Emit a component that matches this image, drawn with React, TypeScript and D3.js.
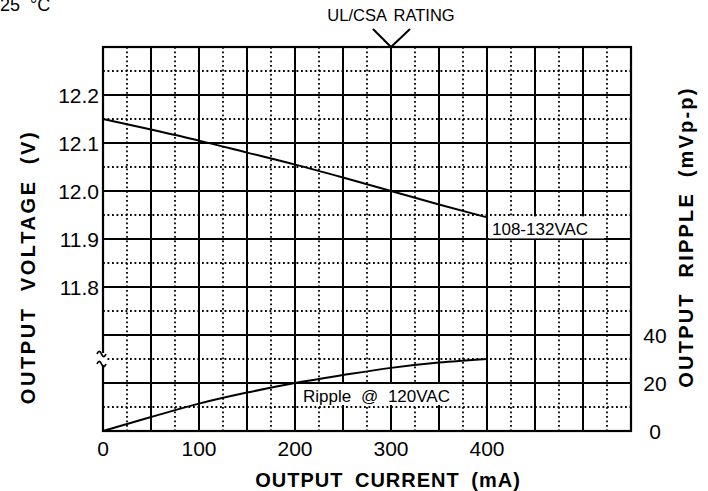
import React from 'react';
import * as d3 from 'd3';

// values
const currentPts = [0, 50, 100, 150, 200, 250, 300, 350, 400];
const voltage = [12.15, 12.128, 12.105, 12.08, 12.055, 12.028, 12.0, 11.972, 11.945];
const ripple = [0, 5.8, 11.4, 16, 20, 23.3, 26.3, 28.5, 30];

const currentTicks = [0, 100, 200, 300, 400];
const voltageTicks = [11.8, 11.9, 12.0, 12.1, 12.2];
const rippleTicks = [0, 20, 40];

const W = 708;
const H = 491;
const margin = { top: 47, right: 77, bottom: 60, left: 103 };
const FONT = '"Liberation Sans", Arial, sans-serif';

const App = () => {
  const innerW = W - margin.left - margin.right;
  const innerH = H - margin.top - margin.bottom;

  const x = d3.scaleLinear().domain([0, 550]).range([0, innerW]);
  const yV = d3.scaleLinear().domain([11.5, 12.3]).range([innerH, 0]);
  const yR = d3.scaleLinear().domain([0, 160]).range([innerH, 0]);

  const majorX = d3.range(0, 551, 50);
  const minorX = d3.range(25, 550, 50);
  const majorY = d3.range(0, 9).map(i => 11.5 + i * 0.1);
  const minorY = d3.range(0, 8).map(i => 11.55 + i * 0.1);

  const vLine = d3.line<number>()
    .x((d, i) => x(currentPts[i]))
    .y(d => yV(d))
    .curve(d3.curveMonotoneX);
  const rLine = d3.line<number>()
    .x((d, i) => x(currentPts[i]))
    .y(d => yR(d))
    .curve(d3.curveMonotoneX);

  const dots = { stroke: '#000', strokeWidth: 1.8, strokeDasharray: '1.8 2.7' };
  const brk = yR(30); // axis break position

  return (
    <svg width={W} height={H} style={{ position: 'absolute', left: 0, top: 0, background: '#fff' }}
      fontFamily={FONT}>
      <text x={0} y={11} fontSize={18}>25<tspan dx={10}>°</tspan>C</text>

      {/* UL/CSA marker */}
      <text x={margin.left + x(300)} y={21} fontSize={16.5} textAnchor="middle" wordSpacing={3}>UL/CSA RATING</text>
      <path d={`M${margin.left + x(300) - 18},29 L${margin.left + x(300)},${margin.top} L${margin.left + x(300) + 19},29`}
        fill="none" stroke="#000" strokeWidth={2} />

      <g transform={`translate(${margin.left},${margin.top})`}>
        {minorX.map(v => (
          <line key={'mx' + v} x1={x(v)} x2={x(v)} y1={0} y2={innerH} {...dots} />
        ))}
        {minorY.map(v => (
          <line key={'my' + v} x1={0} x2={innerW} y1={yV(v)} y2={yV(v)} {...dots} />
        ))}
        {majorX.map(v => (
          <line key={'Mx' + v} x1={x(v)} x2={x(v)} y1={0} y2={innerH} stroke="#000" strokeWidth={2} />
        ))}
        {majorY.map(v => (
          <line key={'My' + v} x1={0} x2={innerW} y1={yV(v)} y2={yV(v)} stroke="#000" strokeWidth={2} />
        ))}
        <rect x={0} y={0} width={innerW} height={innerH} fill="none" stroke="#000" strokeWidth={2.2} />

        {/* axis break on the left edge */}
        <rect x={-3} y={brk - 6} width={5} height={12} fill="#fff" />
        {[-5, 5].map(o => (
          <path key={'brk' + o} d={`M-6,${brk + o} c1.5,-3.5 3,-3.5 4.5,0 s3,3.5 4.5,0`}
            fill="none" stroke="#000" strokeWidth={1.8} />
        ))}

        <path d={vLine(voltage) || ''} fill="none" stroke="#000" strokeWidth={2} />
        <path d={rLine(ripple) || ''} fill="none" stroke="#000" strokeWidth={2} />

        {/* curve labels */}
        <rect x={x(400) + 2} y={yV(11.945) - 1} width={115} height={22} fill="#fff" />
        <text x={x(400) + 5} y={yV(11.945) + 18} fontSize={17}>108-132VAC</text>
        <rect x={x(200) + 2} y={yR(20) + 1} width={163} height={21} fill="#fff" />
        <text x={x(200) + 8} y={yR(20) + 19} fontSize={17} wordSpacing={5}>Ripple @ 120VAC</text>

        {voltageTicks.map(v => (
          <text key={'vt' + v} x={-4} y={yV(v) + 7.5} fontSize={21} textAnchor="end">{v.toFixed(1)}</text>
        ))}
        {currentTicks.map(v => (
          <text key={'ct' + v} x={x(v)} y={innerH + 25} fontSize={21} textAnchor="middle">{v}</text>
        ))}
        {rippleTicks.map(v => (
          <text key={'rt' + v} x={innerW + 24} y={yR(v) + 7.5} fontSize={21} textAnchor="middle">{v}</text>
        ))}

        <text x={innerW / 2 + 21} y={innerH + 56} fontSize={20} fontWeight="bold" textAnchor="middle"
          letterSpacing={1} wordSpacing={5}>OUTPUT CURRENT (mA)</text>
        <text transform={`translate(${-margin.left + 35},${innerH / 2 + 28}) rotate(-90)`} fontSize={20}
          fontWeight="bold" textAnchor="middle" letterSpacing={2.6} wordSpacing={7}>OUTPUT VOLTAGE (V)</text>
        <text transform={`translate(${innerW + 62},${innerH / 2 - 2}) rotate(-90)`} fontSize={20}
          fontWeight="bold" textAnchor="middle" letterSpacing={2.2} wordSpacing={7}>OUTPUT RIPPLE (mVp-p)</text>
      </g>
    </svg>
  );
};

export default App;
